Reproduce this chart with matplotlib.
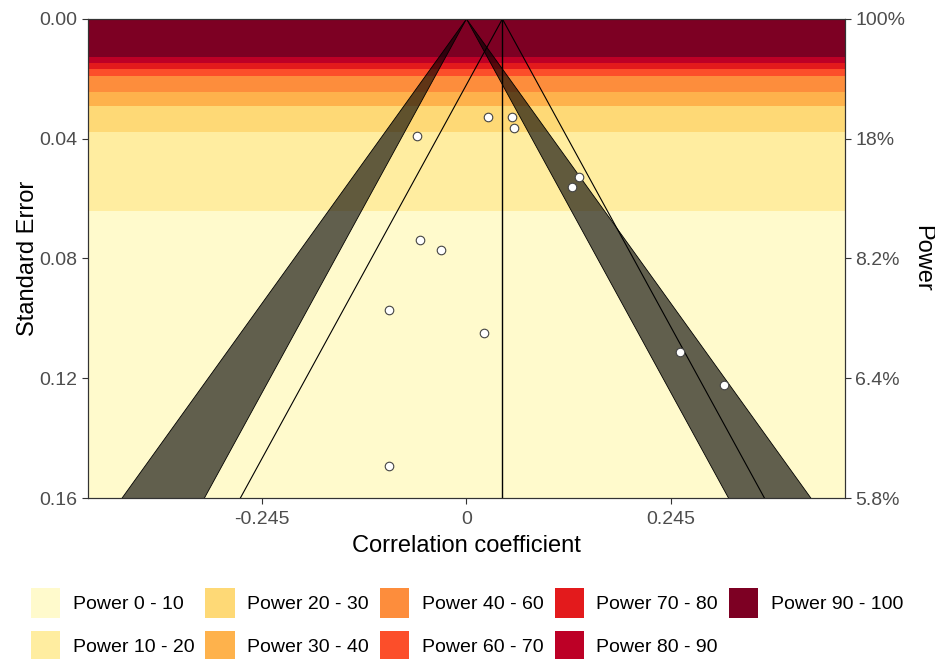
import numpy as np
import matplotlib
import matplotlib.pyplot as plt
from matplotlib.patches import Patch

matplotlib.use("agg")
plt.rcParams['font.family'] = ['Liberation Sans', 'DejaVu Sans']

# study estimates (correlation) and their standard errors
effects = [0.026, 0.054, 0.057, -0.059, 0.135, 0.126, -0.056, -0.030,
           -0.093, 0.021, 0.255, 0.308, -0.093]
std_errors = [0.0327, 0.0327, 0.0363, 0.0391, 0.0527, 0.0560, 0.0738, 0.0771,
              0.0973, 0.1050, 0.1113, 0.1224, 0.1493]
summary_effect = 0.043

# power bands (upper SE bound of each band, from top to bottom)
band_labels = ['Power 90 - 100', 'Power 80 - 90', 'Power 70 - 80', 'Power 60 - 70',
               'Power 40 - 60', 'Power 30 - 40', 'Power 20 - 30', 'Power 10 - 20',
               'Power 0 - 10']
band_edges = [0.0, 0.0128, 0.0148, 0.0167, 0.0190, 0.0245, 0.0291, 0.0377, 0.0640, 0.16]
band_colors = ['#7D0023', '#BD0026', '#E31A1C', '#FC4E2A', '#FD8D3C',
               '#FEB24C', '#FED976', '#FFEDA0', '#FFFACC']

x_ticks = [-0.245, 0, 0.245]
x_tick_labels = ['-0.245', '0', '0.245']
se_ticks = [0.00, 0.04, 0.08, 0.12, 0.16]
se_tick_labels = ['0.00', '0.04', '0.08', '0.12', '0.16']
power_tick_labels = ['100%', '18%', '8.2%', '6.4%', '5.8%']

z_inner = 1.96
z_outer = 2.576
se_max = 0.16
x_lim = 0.453

fig = plt.figure(figsize=(9.35, 6.59), dpi=100)
ax = fig.add_axes([0.0941, 0.2443, 0.8096, 0.7269])

# background power bands
for i in range(len(band_colors)):
    ax.axhspan(band_edges[i], band_edges[i + 1], color=band_colors[i], lw=0, zorder=0)

# significance contours around zero
se_line = np.linspace(0, se_max, 50)
for sign in (-1, 1):
    ax.fill_betweenx(se_line, sign * z_inner * se_line, sign * z_outer * se_line,
                     facecolor='black', alpha=0.62, edgecolor='none', zorder=2)
    ax.plot(sign * z_inner * se_line, se_line, color='black', lw=0.6, zorder=3)
    ax.plot(sign * z_outer * se_line, se_line, color='black', lw=0.6, zorder=3)

# funnel around the summary effect
ax.plot(summary_effect - z_inner * se_line, se_line, color='black', lw=0.8, zorder=3)
ax.plot(summary_effect + z_inner * se_line, se_line, color='black', lw=0.8, zorder=3)
ax.axvline(summary_effect, color='black', lw=1.0, zorder=3)

ax.scatter(effects, std_errors, s=38, facecolor='white', edgecolor='#444444',
           linewidth=0.8, zorder=4)

ax.set_xlim(-x_lim, x_lim)
ax.set_ylim(se_max, 0)
ax.set_xticks(x_ticks)
ax.set_xticklabels(x_tick_labels)
ax.set_yticks(se_ticks)
ax.set_yticklabels(se_tick_labels)
ax.set_xlabel('Correlation coefficient', fontsize=17, labelpad=5)
ax.set_ylabel('Standard Error', fontsize=17, labelpad=0.5)

ax2 = ax.twinx()
ax2.set_ylim(se_max, 0)
ax2.set_yticks(se_ticks)
ax2.set_yticklabels(power_tick_labels)
ax2.set_ylabel('Power', fontsize=17, rotation=270, va='center', ha='center')
ax2.yaxis.set_label_coords(1.1024, 0.5)

for a in (ax, ax2):
    a.tick_params(colors='#333333', labelcolor='#4d4d4d', labelsize=14, length=4.5,
                  width=0.8, pad=3)
    for spine in a.spines.values():
        spine.set_color('#333333')
        spine.set_linewidth(0.8)
ax.tick_params(axis='x', pad=5.2)

# legend, column order as in the reference
order = list(reversed(range(len(band_labels))))
handles = [Patch(facecolor=band_colors[i], edgecolor='none', label=band_labels[i]) for i in order]
fig.legend(handles=handles, loc='upper left', bbox_to_anchor=(0.033, 0.108), ncol=5,
           frameon=False, fontsize=14, handlelength=1.5, handleheight=2.0,
           handletextpad=0.65, columnspacing=0.57, labelspacing=0.67,
           borderpad=0, borderaxespad=0)

plt.savefig('out.png', dpi=100)
